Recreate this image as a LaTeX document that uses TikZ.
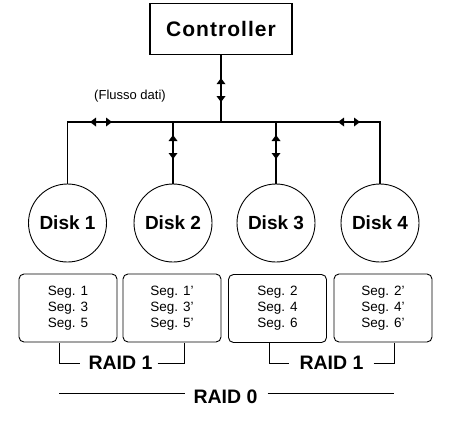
\documentclass[tikz,border=0pt]{standalone}
\usepackage{fontspec}
\setmainfont{Liberation Sans}
\newfontfamily\ctrlfont[LetterSpace=5]{Liberation Sans}
\usetikzlibrary{decorations.markings}
\newcommand\fwdtip{\fill (0,0) -- (-6pt,4.5pt) -- (-6pt,-4.5pt) -- cycle;}
\newcommand\bwdtip{\fill (0,0) -- (6pt,4.5pt) -- (6pt,-4.5pt) -- cycle;}
\tikzset{
  wire/.style={line width=1.2pt},
  tips/.style 2 args={decoration={markings,
      mark=at position #1 with {\bwdtip},
      mark=at position #2 with {\fwdtip}},
    postaction={decorate}},
  ctrlbox/.style={draw, line width=1.3pt, minimum width=142pt, minimum height=51pt,
    inner sep=0pt, font=\ctrlfont\bfseries\fontsize{21}{24}\selectfont},
  disk/.style={circle, draw, line width=0.9pt, minimum size=78pt, inner sep=0pt,
    font=\bfseries\fontsize{19}{22}\selectfont},
  segbox/.style={draw, line width=0.9pt, rounded corners=5pt, minimum width=98pt,
    minimum height=68pt, align=center, font=\fontsize{13.5}{16}\selectfont},
  raid/.style={inner sep=0pt, font=\bfseries\fontsize{19.5}{22}\selectfont},
  bracket/.style={line width=1pt},
  note/.style={inner sep=0pt, font=\fontsize{13}{15}\selectfont},
}
\begin{document}
\begin{tikzpicture}[x=1pt,y=-1pt]
\useasboundingbox (0,0) rectangle (454,420);
% controller
\node[ctrlbox] (ctrl) at (221,29) {Controller};
% disks
\node[disk] (d1) at (67.5,223) {Disk 1};
\node[disk] (d2) at (173,223) {Disk 2};
\node[disk] (d3) at (276,223) {Disk 3};
\node[disk] (d4) at (380,223) {Disk 4};
% bus junctions
\coordinate (j0) at (221,122);
\coordinate (j2) at (d2.north |- j0);
\coordinate (j3) at (d3.north |- j0);
\node[note] (flow) at (130,96) {(Flusso dati)};
% connectors
\draw[wire, tips={23pt}{47pt}] (ctrl.south) -- (j0);
\draw[wire, tips={109pt}{131pt}] (j0) -| (d1.north);
\draw[wire, tips={117pt}{139pt}] (j0) -| (d4.north);
\draw[wire, tips={13pt}{37pt}] (j2) -- (d2.north);
\draw[wire, tips={13pt}{37pt}] (j3) -- (d3.north);
% segment boxes
\node[segbox] (s1) at (68,308) {Seg. 1\\Seg. 3\\Seg. 5};
\node[segbox] (s2) at (172,308) {Seg. 1'\\Seg. 3'\\Seg. 5'};
\node[segbox] (s3) at (277.5,308.5) {Seg. 2\\Seg. 4\\Seg. 6};
\node[segbox] (s4) at (383,308) {Seg. 2'\\Seg. 4'\\Seg. 6'};
% RAID labels
\node[raid] (r1a) at (120.5,363) {RAID 1};
\node[raid] (r1b) at (331.5,363) {RAID 1};
\node[raid] (r0) at (225.5,397) {RAID 0};
\coordinate (a1) at (59,343);
\coordinate (a2) at (184,343);
\coordinate (b1) at (269,343);
\coordinate (b2) at (394,343);
\coordinate (c1) at (59,393);
\coordinate (c2) at (394,393);
\draw[bracket] (a1) |- ([xshift=-8pt]r1a.west |- 0,363);
\draw[bracket] ([xshift=5pt]r1a.east |- 0,363) -| (a2);
\draw[bracket] (b1) |- ([xshift=-10pt]r1b.west |- 0,363);
\draw[bracket] ([xshift=10pt]r1b.east |- 0,363) -| (b2);
\draw[bracket] (c1) -- ([xshift=-8pt]r0.west |- c1);
\draw[bracket] ([xshift=10pt]r0.east |- c2) -- (c2);
\end{tikzpicture}
\end{document}
